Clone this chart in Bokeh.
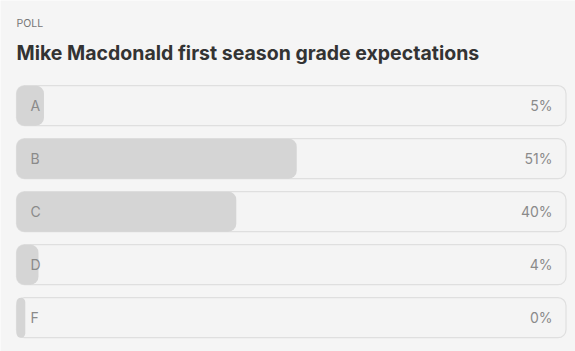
from bokeh.plotting import figure
from bokeh.models import Range1d, ColumnDataSource, Label
from bokeh.core.properties import value
from bokeh.embed import file_html
from bokeh.resources import INLINE

kicker = "POLL"
title = "Mike Macdonald first season grade expectations"
options = ["A", "B", "C", "D", "F"]
percents = [5, 51, 40, 4, 0]

W, H = 575, 351
BOX_LEFT, BOX_W = 16, 549.5
ROW0, PITCH, ROW_H = 105.2, 53, 40
MIN_BAR = 1.6  # minimum visible sliver for 0%

px_per_unit = BOX_W / 100.0
x0 = -BOX_LEFT / px_per_unit
x1 = (W - BOX_LEFT) / px_per_unit

BG = "#f5f5f5"
p = figure(width=W, height=H, output_backend="svg", toolbar_location=None,
           x_range=Range1d(x0, x1), y_range=Range1d(H, 0),
           min_border=0, background_fill_color=BG, border_fill_color=BG)
p.axis.visible = False
p.grid.visible = False
p.outline_line_color = None

ys = [ROW0 + PITCH * i for i in range(len(options))]
src = ColumnDataSource(dict(
    y=ys, opt=options, pct=percents,
    bar=[max(v, MIN_BAR) for v in percents],
    lab=[f"{v}%" for v in percents],
    full=[100] * len(options),
))

p.hbar(y="y", left=0, right="full", height=ROW_H, source=src,
       fill_color="#f4f4f4", line_color="#dfdfdf", line_width=1.2,
       border_radius=8)
p.hbar(y="y", left=0, right="bar", height=ROW_H, source=src,
       fill_color="#d5d5d5", line_color=None, border_radius=8)

lx = 14 / px_per_unit
p.text(x=lx, y="y", text="opt", source=src, text_font=value("Inter"),
       text_font_size="14px", text_color="#8a8a8a",
       text_baseline="middle", text_align="left")
rx = (552 - BOX_LEFT) / px_per_unit
p.text(x=rx, y="y", text="lab", source=src, text_font=value("Inter"),
       text_font_size="14px", text_color="#8a8a8a",
       text_baseline="middle", text_align="right")

p.add_layout(Label(x=BOX_LEFT, y=H - 23, x_units="screen", y_units="screen",
                   text=kicker, text_font="Inter", text_font_size="10.5px",
                   text_color="#777777", text_baseline="alphabetic"))
p.add_layout(Label(x=BOX_LEFT, y=H - 52, x_units="screen", y_units="screen",
                   text=title, text_font="Inter", text_font_size="19.5px",
                   text_font_style="bold", text_color="#333333",
                   text_baseline="alphabetic"))

open("out.html", "w").write(file_html(p, INLINE))
